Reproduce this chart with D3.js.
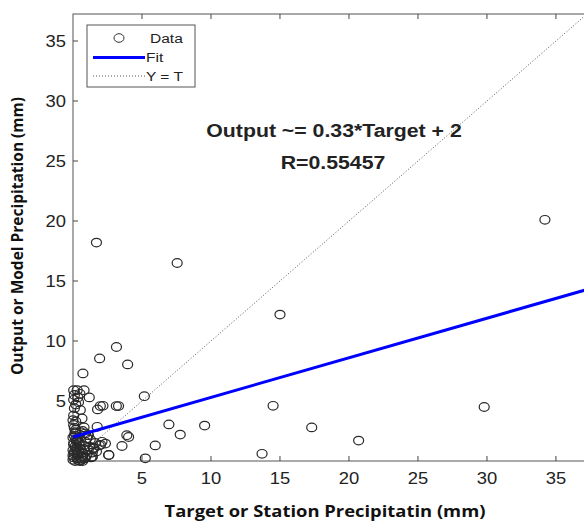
<!DOCTYPE html>
<html>
<head>
<meta charset="utf-8">
<script src="https://cdn.jsdelivr.net/npm/d3@7"></script>
<style>
  html, body { margin: 0; padding: 0; background: #fff; }
  svg { display: block; }
</style>
</head>
<body>
<svg id="chart" width="584" height="525"></svg>
<script>
// target (station) values and output (model) values
const target = [
  34.2, 1.7, 7.55, 15.0, 3.15, 1.93, 3.96, 0.72, 5.17, 29.8, 14.5, 6.95, 9.54,
  17.3, 20.7, 7.77, 5.96, 13.7, 5.24, 3.14, 3.3, 1.98, 2.17, 1.78, 1.18, 3.9,
  4.03, 2.58, 1.38, 1.49,
  0.05, 0.3, 0.8, 0.1, 0.5, 0.05, 0.4, 0.1, 0.53, 0.05, 0.65, 0.2, 0.05, 0.7,
  0.17, 1.1,
  0.0, 0.05, 0.1, 0.0, 0.15, 0.05, 0.2, 0.1, 0.3, 0.35, 0.4, 0.3, 0.45, 0.35,
  0.5, 0.6, 0.7, 0.65, 0.8, 0.75, 0.9, 0.85, 1.0, 1.1, 1.2, 1.0, 1.3, 1.4, 1.5,
  1.6, 1.25, 0.2, 0.55, 0.9, 1.1, 0.15, 0.5, 1.7, 1.9, 2.1, 2.35, 2.0, 1.4,
  1.5, 2.6, 3.55, 0.8, 1.75,
  0.0, 0.1, 0.2, 0.05, 0.25, 0.0, 0.15, 0.4, 0.6, 0.3, 0.55, 0.7, 0.9, 0.45,
  0.1, 0.0, 0.2, 0.35
];
const output = [
  20.1, 18.2, 16.5, 12.2, 9.5, 8.55, 8.05, 7.3, 5.4, 4.5, 4.6, 3.05, 2.95,
  2.8, 1.7, 2.2, 1.3, 0.6, 0.22, 4.58, 4.58, 4.58, 4.6, 4.3, 5.3, 2.15,
  2.0, 0.5, 0.36, 1.06,
  5.9, 5.9, 5.9, 5.5, 5.6, 5.1, 4.9, 4.4, 4.25, 3.8, 3.55, 3.3, 3.0, 2.5,
  2.3, 2.15,
  0.1, 0.3, 0.6, 0.9, 1.2, 1.5, 1.8, 2.1, 0.2, 0.5, 0.8, 1.1, 1.4, 1.7,
  2.0, 0.1, 0.4, 0.7, 1.0, 1.3, 1.6, 0.2, 0.5, 0.9, 1.2, 1.9, 0.3, 0.7, 1.1,
  1.5, 1.8, 2.6, 2.4, 2.3, 2.15, 0.0, 0.0, 0.8, 1.3, 1.6, 1.45, 1.35, 0.35,
  1.05, 0.5, 1.25, 2.8, 2.85,
  0.45, 0.75, 1.0, 1.35, 1.65, 1.95, 2.4, 0.05, 0.25, 0.65, 0.95, 0.0, 0.3,
  1.55, 2.75, 3.4, 4.7, 5.3
];

const fitSlope = 0.33;
const fitIntercept = 2;
const rValue = '0.55457';
const tickValues = [5, 10, 15, 20, 25, 30, 35];
const axisLimit = 37.25;
const legendLabels = ['Data', 'Fit', 'Y = T'];

const svg = d3.select('#chart');
const margin = { left: 73, top: 14, bottom: 461, right: 587 };
const stretch = 1.15; // the picture is a little wider than tall

const x = d3.scaleLinear().domain([0, axisLimit]).range([margin.left, margin.right]);
const y = d3.scaleLinear().domain([0, axisLimit]).range([margin.bottom, margin.top]);

function label(g, px, py, txt, size, weight, anchor) {
  return g.append('text')
    .attr('transform', `translate(${px},${py}) scale(${stretch},1)`)
    .attr('text-anchor', anchor)
    .attr('font-family', 'Liberation Sans, Arial, sans-serif')
    .attr('font-size', size)
    .attr('font-weight', weight)
    .attr('fill', '#222')
    .text(txt);
}

// box
svg.append('rect')
  .attr('x', margin.left).attr('y', margin.top)
  .attr('width', margin.right - margin.left).attr('height', margin.bottom - margin.top)
  .attr('fill', 'none').attr('stroke', '#555').attr('stroke-width', 1);

// ticks, pointing inwards on all four sides
const ticks = svg.append('g').attr('stroke', '#444').attr('stroke-width', 1);
tickValues.forEach((t) => {
  ticks.append('line').attr('x1', x(t)).attr('x2', x(t)).attr('y1', margin.bottom).attr('y2', margin.bottom - 5);
  ticks.append('line').attr('x1', x(t)).attr('x2', x(t)).attr('y1', margin.top).attr('y2', margin.top + 5);
  ticks.append('line').attr('x1', margin.left).attr('x2', margin.left + 5).attr('y1', y(t)).attr('y2', y(t));
});

const labels = svg.append('g');
tickValues.forEach((t) => {
  label(labels, x(t), 484, t, 16, 'normal', 'middle');
  label(labels, 66, y(t) + 6, t, 16, 'normal', 'end');
});

// Y = T
svg.append('line')
  .attr('x1', x(0)).attr('y1', y(0)).attr('x2', x(axisLimit)).attr('y2', y(axisLimit))
  .attr('stroke', '#555').attr('stroke-width', 1).attr('stroke-dasharray', '1,2');

// scatter
svg.append('g').selectAll('ellipse')
  .data(target.map((t, i) => [t, output[i]]))
  .join('ellipse')
  .attr('cx', (d) => x(d[0]))
  .attr('cy', (d) => y(d[1]))
  .attr('rx', 5).attr('ry', 4.3)
  .attr('fill', 'none').attr('stroke', '#2a2a2a').attr('stroke-width', 1.2);

// fit
svg.append('line')
  .attr('x1', x(0)).attr('y1', y(fitIntercept))
  .attr('x2', x(axisLimit)).attr('y2', y(fitSlope * axisLimit + fitIntercept))
  .attr('stroke', '#0000ff').attr('stroke-width', 3);

// annotation
label(svg, 334, 137, `Output ~= ${fitSlope}*Target + ${fitIntercept}`, 18.5, 'bold', 'middle');
label(svg, 333, 169, `R=${rValue}`, 18.5, 'bold', 'middle');

// legend
const lg = svg.append('g');
lg.append('rect').attr('x', 87).attr('y', 25).attr('width', 108).attr('height', 62)
  .attr('fill', '#fff').attr('stroke', '#555');
lg.append('ellipse').attr('cx', 119).attr('cy', 38).attr('rx', 5).attr('ry', 4.3)
  .attr('fill', 'none').attr('stroke', '#333');
lg.append('line').attr('x1', 93).attr('x2', 145).attr('y1', 57.5).attr('y2', 57.5)
  .attr('stroke', '#0000ff').attr('stroke-width', 3);
lg.append('line').attr('x1', 93).attr('x2', 145).attr('y1', 76).attr('y2', 76)
  .attr('stroke', '#555').attr('stroke-dasharray', '1,2');
[[150, 43], [146, 62], [146, 81]].forEach(([px, py], i) => {
  label(lg, px, py, legendLabels[i], 13.5, 'normal', 'start');
});

// axis titles
svg.append('text')
  .attr('transform', `translate(325,517) scale(${stretch},1)`)
  .attr('text-anchor', 'middle')
  .attr('font-family', 'Open Sans, sans-serif').attr('font-weight', 'bold').attr('font-size', 16)
  .attr('fill', '#111')
  .text('Target or Station Precipitatin (mm)');
svg.append('text')
  .attr('transform', 'translate(23,236) rotate(-90)')
  .attr('text-anchor', 'middle')
  .attr('font-family', 'Open Sans, sans-serif').attr('font-weight', 'bold').attr('font-size', 15.5)
  .attr('fill', '#111')
  .text('Output or Model Precipitation (mm)');
</script>
</body>
</html>
